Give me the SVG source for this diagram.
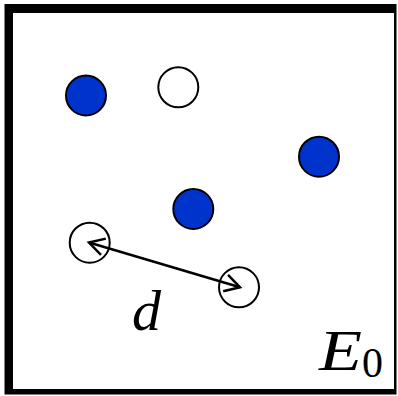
<svg xmlns="http://www.w3.org/2000/svg" width="398" height="396" viewBox="0 0 398 396">
<style>
.blue{fill:#0033CC;stroke:#000;stroke-width:2}
.open{fill:#fff;stroke:#000;stroke-width:2}
.math{font-family:"Liberation Serif","Times New Roman",serif;fill:#000}
</style>
<defs>
<marker id="ah" markerUnits="userSpaceOnUse" viewBox="-18 -11 21 22" markerWidth="21" markerHeight="22" refX="0" refY="0" orient="auto-start-reverse">
<path d="M-15,-8.5 L0,0 L-15,8.5" fill="none" stroke="#000" stroke-width="2.5"/>
</marker>
</defs>
<rect width="398" height="396" fill="#fff"/>
<g id="frame">
<path d="M4.5,4 H396.5 V394.5 H4.5 Z M13,13 V389 H394 V13 Z" fill="#000" fill-rule="evenodd"/>
</g>
<g id="n1"><circle class="blue" cx="86" cy="95.5" r="20"/></g>
<g id="n2"><circle class="open" cx="178.3" cy="87.3" r="20"/></g>
<g id="n3"><circle class="blue" cx="319" cy="156.7" r="20"/></g>
<g id="n4"><circle class="blue" cx="193.3" cy="209" r="20"/></g>
<g id="n5"><circle class="open" cx="89.7" cy="242.7" r="20"/></g>
<g id="n6"><circle class="open" cx="239" cy="287.3" r="20"/></g>
<g id="connectors">
<line x1="89" y1="242.5" x2="240" y2="287.3" stroke="#000" stroke-width="2.5" marker-start="url(#ah)" marker-end="url(#ah)"/>
</g>
<text class="math" x="132" y="330" font-size="58" font-style="italic">d</text>
<text class="math" x="319" y="370" font-size="57" font-style="italic" textLength="43" lengthAdjust="spacingAndGlyphs">E</text>
<text class="math" x="362" y="377" font-size="42">0</text>
</svg>
